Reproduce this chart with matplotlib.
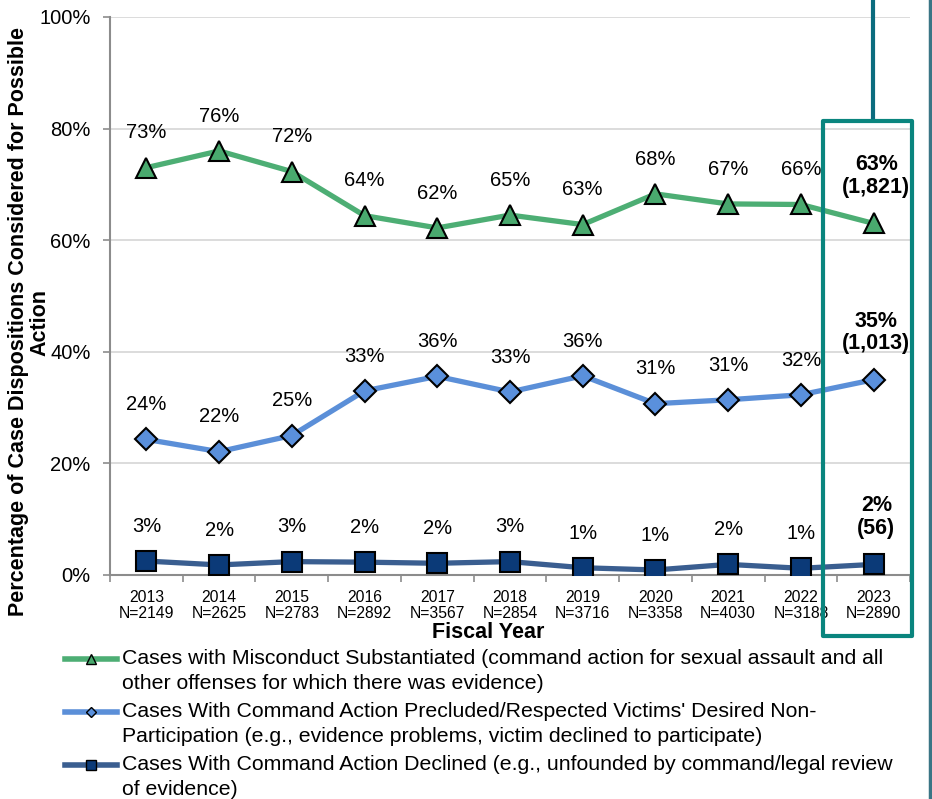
import numpy as np
import matplotlib
matplotlib.use('Agg')
import matplotlib.pyplot as plt
from matplotlib.patches import Rectangle
from matplotlib.lines import Line2D

plt.rcParams['font.family'] = ['Liberation Sans', 'DejaVu Sans']

anos = ['2013', '2014', '2015', '2016', '2017', '2018', '2019', '2020', '2021', '2022', '2023']
casos = ['2149', '2625', '2783', '2892', '3567', '2854', '3716', '3358', '4030', '3188', '2890']

# Valores (fração)
substanciado = [0.73, 0.76, 0.723, 0.644, 0.622, 0.645, 0.628, 0.683, 0.665, 0.664, 0.630]
impedido = [0.243, 0.221, 0.250, 0.330, 0.356, 0.328, 0.357, 0.307, 0.314, 0.323, 0.350]
declinado = [0.025, 0.018, 0.024, 0.023, 0.021, 0.024, 0.013, 0.009, 0.019, 0.012, 0.019]

rot_sub = ['73%', '76%', '72%', '64%', '62%', '65%', '63%', '68%', '67%', '66%', '63%\n(1,821)']
rot_imp = ['24%', '22%', '25%', '33%', '36%', '33%', '36%', '31%', '31%', '32%', '35%\n(1,013)']
rot_dec = ['3%', '2%', '3%', '2%', '2%', '3%', '1%', '1%', '2%', '1%', '2%\n(56)']

legendas = ['Cases with Misconduct Substantiated (command action for sexual assault and all\n'
            'other offenses for which there was evidence)',
            "Cases With Command Action Precluded/Respected Victims' Desired Non-\n"
            'Participation (e.g., evidence problems, victim declined to participate)',
            'Cases With Command Action Declined (e.g., unfounded by command/legal review\n'
            'of evidence)']

W, H = 932, 799
fig = plt.figure(figsize=(W / 100, H / 100), dpi=100)
ax = fig.add_axes([110 / W, 1 - 575 / H, 800 / W, 558 / H])

x = np.arange(len(anos))

series = [
    (substanciado, rot_sub, '#4DAE74', '#49A96E', '^', 15),
    (impedido, rot_imp, '#5B8FD8', '#5A90DC', 'D', 11),
    (declinado, rot_dec, '#3A5E90', '#0B3A78', 's', 15),
]
for k, (vals, rots, cor_linha, cor_marca, marca, ms) in enumerate(series):
    ax.plot(x, vals, color=cor_linha, lw=3.8, zorder=3)
    ax.plot(x, vals, ls='none', marker=marca, ms=ms, mfc=cor_marca, mec='black', mew=1.5, zorder=4)
    for i, (xi, v, r) in enumerate(zip(x, vals, rots)):
        if i == len(x) - 1:
            ax.annotate(r, (xi, v), xytext=(2, 34), textcoords='offset points',
                        ha='center', va='center', fontsize=15.5, fontweight='bold',
                        linespacing=1.1, annotation_clip=False)
        else:
            ax.annotate(r, (xi, v), xytext=(0, 25), textcoords='offset points',
                        ha='center', va='center', fontsize=14.5, annotation_clip=False)

    # Legenda feita à mão (marcador alinhado com a primeira linha do texto)
    y0 = 1 - (659 + 53 * k) / H
    fig.lines.append(Line2D([65 / W, 91 / W, 117 / W], [y0, y0, y0], transform=fig.transFigure,
                            color=cor_linha, lw=4, marker=marca, markevery=[1], ms=ms * 0.45,
                            mfc=cor_marca, mec='black', mew=1))
    fig.text(122 / W, y0 + 10 / H, legendas[k], ha='left', va='top', fontsize=15.3,
             linespacing=1.38)

ax.set_xlim(-0.5, len(x) - 0.5)
ax.set_ylim(0, 1)
ax.set_yticks(np.arange(0, 1.01, 0.2))
ax.set_yticklabels([f'{int(t * 100)}%' for t in np.arange(0, 1.01, 0.2)], fontsize=14.5)
ax.set_xticks(x)
ax.set_xticklabels([f'{a}\nN={n}' for a, n in zip(anos, casos)], fontsize=11.3, linespacing=1.1)
ax.set_xticks(np.arange(-0.5, len(x)), minor=True)
ax.tick_params(axis='x', which='major', length=0, pad=11)
ax.tick_params(axis='x', which='minor', length=5, color='#8c8c8c', width=1.2)
ax.tick_params(axis='y', length=5, color='#8c8c8c', width=1.2, pad=9)
ax.grid(axis='y', color='#d6d6d6', lw=1.2)
ax.set_axisbelow(True)
for lado in ['top', 'right']:
    ax.spines[lado].set_visible(False)
for lado in ['left', 'bottom']:
    ax.spines[lado].set_color('#8c8c8c')
    ax.spines[lado].set_linewidth(1.5)

fig.text(488 / W, 1 - 633 / H, 'Fiscal Year', ha='center', va='center', fontsize=15.5, fontweight='bold')
fig.text(29 / W, 1 - 322 / H, 'Percentage of Case Dispositions Considered for Possible\nAction',
         rotation=90, ha='center', va='center', multialignment='center',
         fontsize=15.5, fontweight='bold', linespacing=1.0)

# Destaque do ano de 2023
fig.patches.append(Rectangle((823 / W, 1 - 636 / H), 89 / W, 515 / H, transform=fig.transFigure,
                             fill=False, lw=3, edgecolor='#0A857E', joinstyle='round'))
fig.lines.append(Line2D([873 / W, 873 / W], [1, 1 - 117 / H], transform=fig.transFigure,
                        color='#0B6C7E', lw=3))
fig.lines.append(Line2D([930 / W, 930 / W], [0, 1], transform=fig.transFigure,
                        color='#3A7585', lw=2.5))

fig.savefig('out.png', dpi=100)
